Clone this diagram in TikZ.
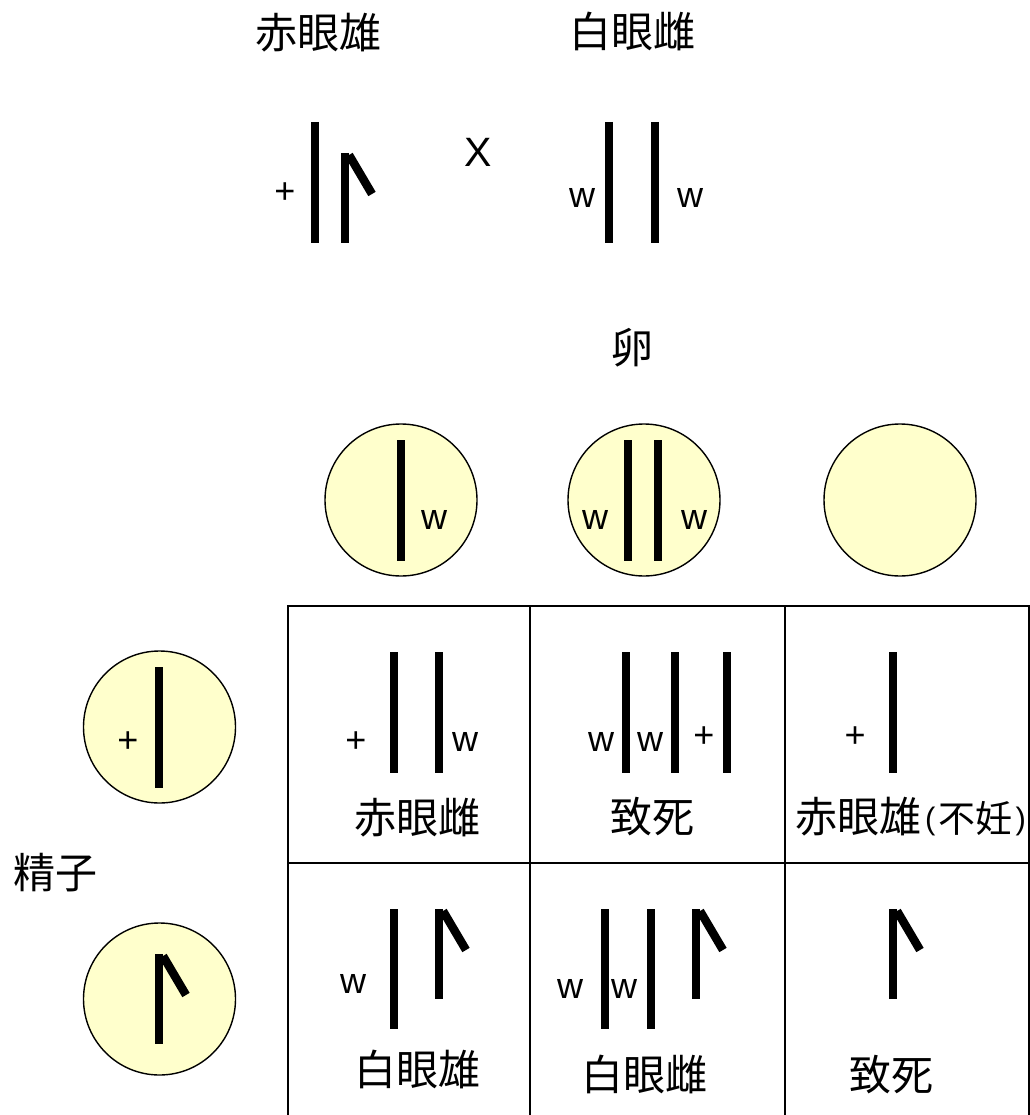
\documentclass[tikz,border=0pt]{standalone}
\usepackage{fontspec}
\setmainfont{Liberation Sans}
\newfontfamily\jpfont{Noto Sans CJK JP}
\definecolor{cellyellow}{HTML}{FFFFCC}
\tikzset{
  x=1pt,y=-1pt,
  title/.style={inner sep=0pt,font=\jpfont\fontsize{42}{42}\selectfont},
  allele/.style={inner sep=0pt,font=\fontsize{36}{36}\selectfont},
  cross/.style={inner sep=0pt,font=\fontsize{41}{41}\selectfont},
  chrom/.style={line width=8pt,line cap=butt,black},
  cellball/.style={circle,draw=black,line width=1.4pt,fill=cellyellow,minimum size=152pt,inner sep=0pt},
  gridline/.style={line width=1.4pt,black}
}
% chromosome with a hooked arm: #1 = x, #2 = top y, #3 = bottom y
\newcommand{\hooked}[3]{%
  \draw[chrom] (#1,#2) -- (#1,#3);
  \draw[chrom,line width=8.5pt] (#1+4,#2+2) -- (#1+27,#2+41);
}
% thin half-width bracket used around the note in the table
\newcommand{\thinparen}[1]{{\fontspec{Liberation Sans}\fontsize{31}{31}\selectfont\raisebox{3pt}{#1}}}
\begin{document}
\begin{tikzpicture}
\useasboundingbox (0,0) rectangle (1029,1115);

% parents
\node[title] (father) at (318,33) {赤眼雄};
\node[title] (mother) at (632,31) {白眼雌};
\node[allele] (fplus) at (285,193) {+};
\draw[chrom] (315,122) -- (315,243);
\hooked{345}{153}{243}
\node[cross] (crossmark) at (478,152) {X};
\node[allele] (mw1) at (582,198) {w};
\draw[chrom] (609,122) -- (609,243);
\draw[chrom] (655,122) -- (655,243);
\node[allele] (mw2) at (690,198) {w};

% eggs
\node[title] (egg) at (632,348) {卵};
\node[cellball] (egg1) at (401,500) {};
\node[cellball] (egg2) at (644,500) {};
\node[cellball] (egg3) at (900,500) {};
\draw[chrom] (401,440) -- (401,561);
\node[allele] (e1w) at (434,520) {w};
\draw[chrom] (628,440) -- (628,561);
\draw[chrom] (658,440) -- (658,561);
\node[allele] (e2w1) at (595,520) {w};
\node[allele] (e2w2) at (694,520) {w};

% sperm
\node[title] (sperm) at (55,873) {精子};
\node[cellball] (sp1) at (159.5,727) {};
\node[cellball] (sp2) at (159.5,999) {};
\draw[chrom] (159,667) -- (159,788);
\node[allele] (s1plus) at (128,742) {+};
\hooked{159}{954}{1044}

% Punnett grid
\draw[gridline] (288,1115) -- (288,606) -- (1029,606) -- (1029,1115);
\draw[gridline] (288,863) -- (1029,863);
\draw[gridline] (530,606) -- (530,1115);
\draw[gridline] (785,606) -- (785,1115);

% first row
\node[allele] (a1) at (356,742) {+};
\draw[chrom] (394,652) -- (394,773);
\draw[chrom] (439,652) -- (439,773);
\node[allele] (a2) at (465,742) {w};
\node[title] (t1) at (417,818) {赤眼雌};

\node[allele] (b1) at (601,742) {w};
\node[allele] (b2) at (650,742) {w};
\node[allele] (b3) at (704,737) {+};
\draw[chrom] (626,652) -- (626,773);
\draw[chrom] (675,652) -- (675,773);
\draw[chrom] (727,652) -- (727,773);
\node[title] (t2) at (652,817) {致死};

\node[allele] (c1) at (855,737) {+};
\draw[chrom] (893,652) -- (893,773);
\node[title] (t3) at (910.5,817) {赤眼雄\hspace{4pt}\thinparen{(}\hspace{3pt}{\fontsize{37}{37}\selectfont 不妊}\hspace{3pt}\thinparen{)}};

% second row
\node[allele] (d1) at (353,984) {w};
\draw[chrom] (394,909) -- (394,1029);
\hooked{439}{909}{999}
\node[title] (t4) at (417,1069) {白眼雄};

\node[allele] (f1) at (570,989) {w};
\node[allele] (f2) at (624,989) {w};
\draw[chrom] (605,909) -- (605,1029);
\draw[chrom] (651,909) -- (651,1029);
\hooked{696}{909}{999}
\node[title] (t5) at (644,1074) {白眼雌};

\hooked{893}{909}{999}
\node[title] (t6) at (891,1075) {致死};
\end{tikzpicture}
\end{document}
